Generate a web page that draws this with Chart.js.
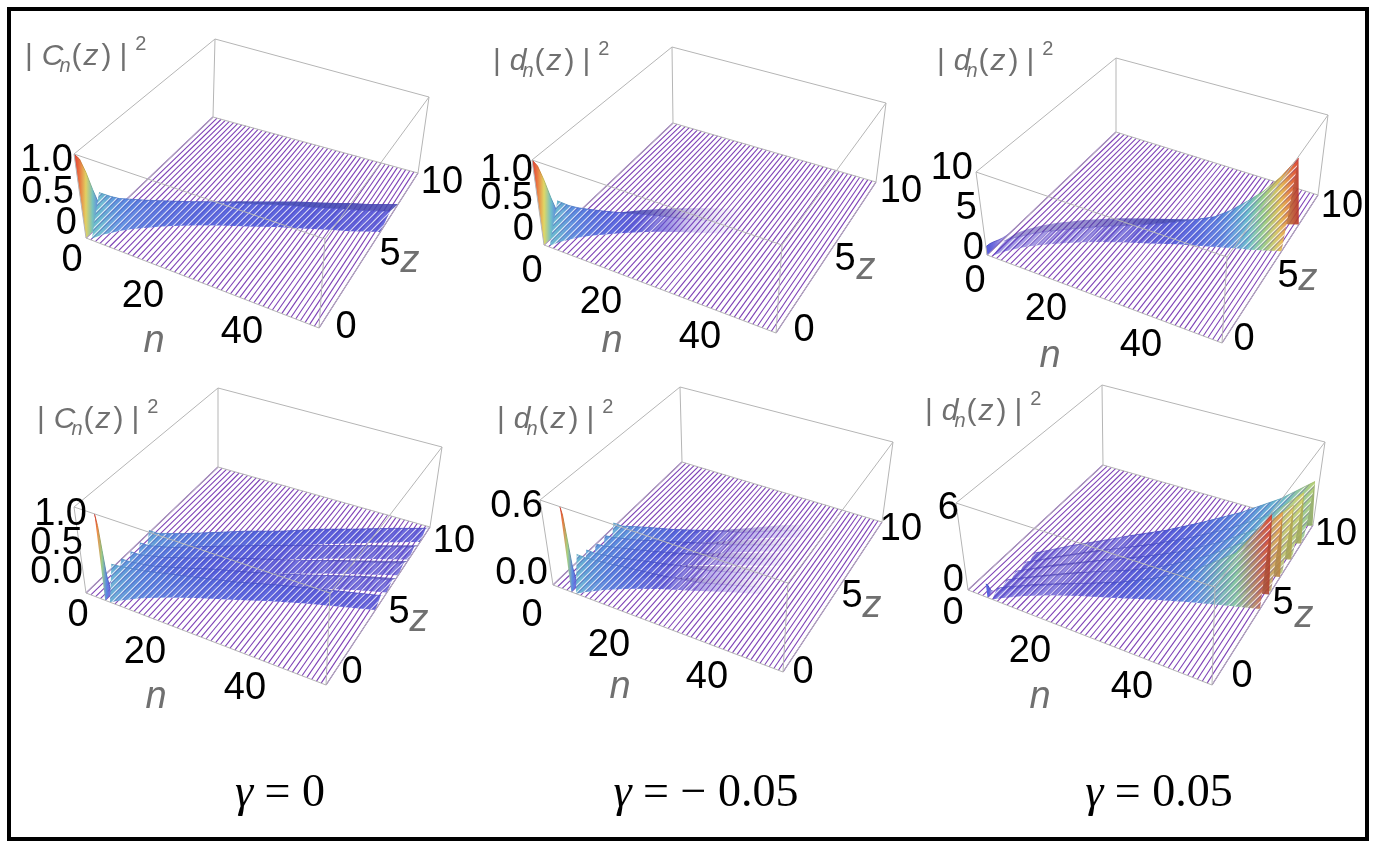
<!DOCTYPE html>
<html>
<head>
<meta charset="utf-8">
<title>|C_n(z)|^2 and |d_n(z)|^2</title>
<script src="https://cdn.jsdelivr.net/npm/chart.js@4.4.1/dist/chart.umd.min.js"></script>
<style>
  html, body { margin: 0; padding: 0; background: #fff; }
  #wrap { position: relative; width: 1376px; height: 848px; overflow: hidden; }
  #plot { position: absolute; left: 0; top: 0; }
  #frame { position: absolute; left: 7px; top: 7px; width: 1362px; height: 834px;
           border: 4px solid #000; box-sizing: border-box; pointer-events: none; }
</style>
</head>
<body>
<div id="wrap">
  <canvas id="plot" width="1376" height="848"></canvas>
  <div id="frame"></div>
</div>
<script>
const W = 1376, H = 848;
const N_MAX = 50, Z_MAX = 10;

// ---- values ----
const nIndex = Array.from({length: 51}, (_, i) => i);   // one mesh line per guide n
const nTicks = ['0', '20', '40'];
const zTicks = ['0', '5', '10'];
const gammaValues = ['0', '\u2212 0.05', '0.05'];
const titleLetter = ['C', 'd', 'd', 'C', 'd', 'd'];
const vTickLabels = [['1.0', '0.5', '0'], ['1.0', '0.5', '0'], ['10', '5', '0'],
                     ['1.0', '0.5', '0.0'], ['0.6', '0.0'], ['6', '0']];
const vMax = [1, 1, 10, 1, 0.62, 6.5];

// top row: intensity in guide n = 0 along z
const wallZ  = [0, 0.3, 0.6, 0.9, 1.2, 1.5, 1.8, 2.2];
const wallG0 = [1.0, 0.9, 0.7, 0.45, 0.24, 0.11, 0.04, 0.01];
const wallGm = [1.0, 0.89, 0.68, 0.43, 0.22, 0.1, 0.035, 0.01];
const wallGp = [1.0, 0.92, 0.72, 0.47, 0.26, 0.12, 0.05, 0.015];

// top row: main crest (guide, position in z, height)
const crestN  = [1, 2, 3, 4, 6, 8, 10, 13, 16, 20, 25, 30, 35, 38, 41, 44, 47, 50];
const crestZ  = [1.0, 1.45, 1.75, 2.05, 2.5, 2.85, 3.2, 3.65, 4.05, 4.5, 5.0, 5.5, 5.9, 6.15, 6.4, 6.6, 6.85, 7.1];
const crestG0 = [0.42, 0.33, 0.28, 0.25, 0.21, 0.19, 0.17, 0.15, 0.14, 0.13, 0.12, 0.11, 0.1, 0.097, 0.094, 0.09, 0.088, 0.085];
const crestGm = [0.4, 0.3, 0.25, 0.21, 0.16, 0.13, 0.1, 0.07, 0.04, 0.008, 0.001, 0, 0, 0, 0, 0, 0, 0];
const crestGp = [0.4, 0.35, 0.33, 0.32, 0.32, 0.33, 0.36, 0.42, 0.5, 0.65, 0.95, 1.4, 2.1, 3.0, 4.2, 5.6, 7.4, 9.8];

// bottom row: input guide n = 4 along z
const spikeZ  = [0, 0.1, 0.2, 0.3, 0.45, 0.6];
const spikeG0 = [1.0, 0.85, 0.55, 0.25, 0.07, 0.02];
const spikeGm = [0.62, 0.55, 0.36, 0.16, 0.045, 0.01];
const spikeGp = [1.0, 0.85, 0.55, 0.25, 0.07, 0.02];

// bottom row: five crests fanning out (front to back)
const fanN  = [5, 6, 9, 13, 18, 24, 30, 37, 44, 50];
const fanZ1 = [0.4, 0.7, 1.3, 1.9, 2.5, 3.1, 3.7, 4.3, 4.8, 5.2];
const fanZ2 = [1.1, 1.4, 2.0, 2.7, 3.4, 4.0, 4.6, 5.3, 5.9, 6.3];
const fanZ3 = [1.8, 2.1, 2.8, 3.5, 4.3, 5.0, 5.6, 6.3, 6.9, 7.4];
const fanZ4 = [2.5, 2.8, 3.5, 4.3, 5.1, 5.9, 6.6, 7.3, 7.9, 8.4];
const fanZ5 = [3.2, 3.5, 4.3, 5.1, 6.0, 6.8, 7.6, 8.3, 9.0, 9.5];

const fanG0_1 = [0.38, 0.33, 0.25, 0.2, 0.16, 0.13, 0.115, 0.1, 0.09, 0.085];
const fanG0_2 = [0.34, 0.28, 0.2, 0.15, 0.12, 0.1, 0.085, 0.075, 0.07, 0.065];
const fanG0_3 = [0.32, 0.26, 0.18, 0.14, 0.11, 0.09, 0.08, 0.07, 0.065, 0.06];
const fanG0_4 = [0.32, 0.26, 0.19, 0.15, 0.12, 0.1, 0.085, 0.075, 0.07, 0.065];
const fanG0_5 = [0.36, 0.3, 0.23, 0.19, 0.15, 0.12, 0.105, 0.095, 0.085, 0.08];

const fanGm_1 = [0.25, 0.21, 0.15, 0.1, 0.05, 0.015, 0.004, 0, 0, 0];
const fanGm_2 = [0.22, 0.18, 0.13, 0.085, 0.045, 0.013, 0.003, 0, 0, 0];
const fanGm_3 = [0.2, 0.17, 0.12, 0.08, 0.042, 0.012, 0.003, 0, 0, 0];
const fanGm_4 = [0.2, 0.17, 0.12, 0.08, 0.044, 0.013, 0.003, 0, 0, 0];
const fanGm_5 = [0.23, 0.19, 0.14, 0.09, 0.048, 0.014, 0.004, 0, 0, 0];

const fanGp_1 = [0.45, 0.4, 0.35, 0.36, 0.48, 0.7, 1.1, 1.9, 3.3, 6.3];
const fanGp_2 = [0.4, 0.35, 0.3, 0.32, 0.44, 0.66, 1.05, 1.8, 3.0, 5.3];
const fanGp_3 = [0.38, 0.33, 0.28, 0.3, 0.42, 0.62, 1.0, 1.7, 2.8, 4.6];
const fanGp_4 = [0.38, 0.33, 0.28, 0.3, 0.42, 0.62, 1.0, 1.65, 2.7, 4.4];
const fanGp_5 = [0.4, 0.36, 0.31, 0.33, 0.45, 0.68, 1.05, 1.75, 2.7, 4.0];

// ---- layout: box corners (A: n0 z0, B: n50 z0, C: n50 z10, D: n0 z10, *2 = top) and label spots ----
const LAYOUT = [
  { A:[86,238], B:[319,328], C:[418,173], D:[213,117], A2:[74,154], B2:[325,239], C2:[429,97], D2:[215,39],
    title:[25,65], vTick:[[72,161],[73,193],[76,224]], nTick:[[72,261],[143,297],[242,333]], nLab:[154,342],
    zTick:[[346,328],[390,255],[442,183]], zLab:[410,262] },
  { A:[544,245], B:[776,333], C:[876,182], D:[673,123], A2:[532,160], B2:[782,245], C2:[886,103], D2:[672,47],
    title:[493,70], vTick:[[532,171],[532,199],[533,230]], nTick:[[532,272],[601,303],[700,338]], nLab:[612,342],
    zTick:[[804,331],[845,260],[901,192]], zLab:[866,269] },
  { A:[987,255], B:[1222,343], C:[1318,195], D:[1116,132], A2:[976,172], B2:[1227,257], C2:[1328,115], D2:[1116,58],
    title:[937,70], vTick:[[972,169],[976,209],[983,249]], nTick:[[975,282],[1046,310],[1141,346]], nLab:[1050,357],
    zTick:[[1244,340],[1288,277],[1342,207]], zLab:[1308,280] },
  { A:[86,593], B:[326,685], C:[430,527], D:[218,467], A2:[74,507], B2:[330,593], C2:[442,447], D2:[218,388],
    title:[37,428], vTick:[[86,515],[82,544],[82,573]], nTick:[[78,616],[145,653],[245,689]], nLab:[156,698],
    zTick:[[352,673],[399,613],[454,542]], zLab:[419,621] },
  { A:[553,585], B:[783,672], C:[882,522], D:[682,462], A2:[540,500], B2:[788,583], C2:[893,442], D2:[680,387],
    title:[497,428], vTick:[[542,507],[547,574]], nTick:[[532,616],[609,646],[707,678]], nLab:[620,688],
    zTick:[[803,673],[852,597],[901,530]], zLab:[872,607] },
  { A:[968,590], B:[1212,685], C:[1313,525], D:[1103,465], A2:[956,503], B2:[1215,587], C2:[1325,442], D2:[1102,385],
    title:[925,420], vTick:[[958,509],[963,581]], nTick:[[953,614],[1030,652],[1132,688]], nLab:[1040,698],
    zTick:[[1242,677],[1283,604],[1336,535]], zLab:[1304,617] }
];
const GAMMA_POS = [[280, 806], [706, 806], [1159, 806]];
const BACK_EDGES = [['D','D2'], ['C','C2'], ['D2','C2'], ['A2','D2'], ['A','D'], ['D','C']];
const FRONT_EDGES = [['A','B'], ['B','C'], ['A','A2'], ['B','B2'], ['A2','B2'], ['B2','C2']];
const FOOT_TOP = 0.9, FOOT_BOT = 0.45;
const HATCH = 'rgb(126, 66, 182)';
const EDGE = '#b5b5b5';
const GRAY = '#707070';
const SANS = '"Liberation Sans", Arial, Helvetica, sans-serif';
const SERIF = '"Liberation Serif", "Times New Roman", serif';

const fanZ = [fanZ1, fanZ2, fanZ3, fanZ4, fanZ5];
const fanG0 = [fanG0_1, fanG0_2, fanG0_3, fanG0_4, fanG0_5];
const fanGm = [fanGm_1, fanGm_2, fanGm_3, fanGm_4, fanGm_5];
const fanGp = [fanGp_1, fanGp_2, fanGp_3, fanGp_4, fanGp_5];
const fan = g => fanZ.map((zs, k) => [fanN, zs, g[k], FOOT_BOT]);

const surfaces = [
  { profile: [0, wallZ, wallG0], ridges: [[crestN, crestZ, crestG0, FOOT_TOP]] },
  { profile: [0, wallZ, wallGm], ridges: [[crestN, crestZ, crestGm, FOOT_TOP]] },
  { profile: [0, wallZ, wallGp], ridges: [[crestN, crestZ, crestGp, FOOT_TOP]] },
  { profile: [4, spikeZ, spikeG0], ridges: fan(fanG0) },
  { profile: [4, spikeZ, spikeGm], ridges: fan(fanGm) },
  { profile: [4, spikeZ, spikeGp], ridges: fan(fanGp) }
];

// rainbow-like colour ramp for the surface height
const RAMP = [
  [0.00, [88, 60, 200]],
  [0.12, [76, 88, 220]],
  [0.28, [86, 140, 224]],
  [0.42, [100, 186, 204]],
  [0.56, [150, 206, 130]],
  [0.68, [222, 214, 92]],
  [0.82, [240, 156, 66]],
  [1.00, [222, 48, 40]]
];
function rampRGB(t) {
  t = Math.max(0, Math.min(1, t));
  for (let i = 1; i < RAMP.length; i++) {
    if (t <= RAMP[i][0]) {
      const [t0, c0] = RAMP[i - 1], [t1, c1] = RAMP[i];
      const f = (t - t0) / (t1 - t0);
      return c0.map((c, k) => c + (c1[k] - c) * f);
    }
  }
  return RAMP[RAMP.length - 1][1];
}
function shade(rgb, mix) {
  return rgb.map(c => mix >= 0 ? c + (255 - c) * mix : c * (1 + mix));
}
function rgba(rgb, a) {
  return 'rgba(' + rgb.map(Math.round).join(',') + ',' + a.toFixed(3) + ')';
}
function alphaFor(t) { return Math.min(1, Math.sqrt(Math.max(t, 0)) * 3.2); }

// colour follows the crest value from left to right
function rampFill(pts, vals, vmax, mix, aScale) {
  return (ctx) => {
    const chart = ctx.chart;
    if (!chart.chartArea) return 'rgba(0,0,0,0)';
    const sx = chart.scales.x;
    const px = pts.map(p => sx.getPixelForValue(p.x));
    const x0 = Math.min(...px);
    const x1 = Math.max(Math.max(...px), x0 + 2);
    const g = chart.ctx.createLinearGradient(x0, 0, x1, 0);
    px.forEach((x, i) => {
      const t = vals[i] / vmax;
      const off = Math.min(1, Math.max(0, (x - x0) / (x1 - x0)));
      g.addColorStop(off, rgba(shade(rampRGB(t), mix), alphaFor(t) * aScale));
    });
    return g;
  };
}

function makeStripes() {
  const c = document.createElement('canvas');
  c.width = 7; c.height = 7;
  const g = c.getContext('2d');
  const diag = (off, color, w) => {
    g.strokeStyle = color;
    g.lineWidth = w;
    for (const k of [-7, 0, 7]) {
      g.beginPath(); g.moveTo(k + off - 1, 8); g.lineTo(k + off + 8, -1); g.stroke();
    }
  };
  diag(0, 'rgba(255,255,255,0.75)', 1.2);
  diag(1.6, 'rgba(70,40,160,0.45)', 1.0);
  return g.createPattern(c, 'repeat');
}
const STRIPES = makeStripes();

function lerp(a, b, f) { return [a[0] + (b[0] - a[0]) * f, a[1] + (b[1] - a[1]) * f]; }
function proj(L, vmax, n, z, v) {
  const u = n / N_MAX;
  const t = Math.min(Math.max(z, 0), Z_MAX) / Z_MAX;
  const s = Math.min(v / vmax, 1);
  const f = lerp(lerp(L.A, L.B, u), lerp(L.D, L.C, u), t);
  const g = lerp(lerp(L.A2, L.B2, u), lerp(L.D2, L.C2, u), t);
  const p = lerp(f, g, s);
  return { x: p[0], y: p[1] };
}

const datasets = [];
function addLine(points, color, width) {
  datasets.push({ data: points, showLine: true, fill: false, borderColor: color,
                  borderWidth: width, pointRadius: 0, pointHoverRadius: 0 });
}
function addShape(points, bg) {
  datasets.push({ data: points, showLine: true, fill: 'shape', backgroundColor: bg,
                  borderColor: 'rgba(0,0,0,0)', borderWidth: 0, pointRadius: 0, pointHoverRadius: 0 });
}

LAYOUT.forEach((L, p) => {
  const vmax = vMax[p];
  const P = (n, z, v) => proj(L, vmax, n, z, v);
  const corner = k => ({ x: L[k][0], y: L[k][1] });

  nIndex.forEach(n => addLine([P(n, 0, 0), P(n, Z_MAX, 0)], HATCH, 1.1));
  BACK_EDGES.forEach(([a, b]) => addLine([corner(a), corner(b)], EDGE, 1));

  const S = surfaces[p];
  const [pn, pz, pv] = S.profile;
  const top = pz.map((z, i) => P(pn, z, pv[i]));
  const base = pz.map(z => P(pn, z, 0));
  addShape(top.concat(base.slice().reverse()), rampFill(top, pv, vmax, 0.05, 1));
  addLine(top, rampFill(top, pv, vmax, -0.1, 1), 1);

  S.ridges.slice().reverse().forEach(([ns, zs, vs, foot]) => {
    const crest = vs.map((v, i) => P(ns[i], zs[i], v));
    const front = vs.map((v, i) => P(ns[i], zs[i] - foot, 0));
    const back = vs.map((v, i) => P(ns[i], zs[i] + foot, 0));
    addShape(crest.concat(back.slice().reverse()), rampFill(crest, vs, vmax, -0.18, 0.9));
    addShape(front.concat(crest.slice().reverse()), rampFill(crest, vs, vmax, 0.04, 0.95));
    let last = 0;
    vs.forEach((v, i) => { if (v / vmax > 0.015) last = i; });
    const k = last + 1;
    addShape(front.slice(0, k).concat(crest.slice(0, k).reverse()), STRIPES);
    addLine(crest, rampFill(crest, vs, vmax, -0.1, 0.9), 0.8);
  });

  FRONT_EDGES.forEach(([a, b]) => addLine([corner(a), corner(b)], EDGE, 1));
});
datasets.forEach((d, i) => { d.order = datasets.length - i; });

function drawTitle(ctx, x, y, letter) {
  const big = '30px ' + SANS, bigI = 'italic 30px ' + SANS;
  const sub = 'italic 20px ' + SANS, sup = '20px ' + SANS;
  const parts = [[big, '|', 0, 9], [bigI, letter, 0, -4], [sub, 'n', 7, 1], [big, '(', 0, 2],
                 [bigI, 'z', 0, 3], [big, ')', 0, 8], [big, '|', 0, 8], [sup, '2', -15, 0]];
  ctx.fillStyle = GRAY;
  ctx.textAlign = 'left';
  ctx.textBaseline = 'alphabetic';
  let cx = x;
  for (const [f, s, dy, gap] of parts) {
    ctx.font = f;
    ctx.fillText(s, cx, y + dy);
    cx += ctx.measureText(s).width + gap;
  }
}

const panelText = {
  id: 'panelText',
  afterDraw(chart) {
    const ctx = chart.ctx;
    const X = v => chart.scales.x.getPixelForValue(v);
    const Y = v => chart.scales.y.getPixelForValue(v);
    ctx.save();
    LAYOUT.forEach((L, p) => {
      drawTitle(ctx, X(L.title[0]), Y(L.title[1]), titleLetter[p]);
      ctx.fillStyle = '#000';
      ctx.font = '38px ' + SANS;
      ctx.textBaseline = 'middle';
      ctx.textAlign = 'right';
      vTickLabels[p].forEach((s, i) => ctx.fillText(s, X(L.vTick[i][0]) + 1, Y(L.vTick[i][1])));
      ctx.textAlign = 'center';
      nTicks.forEach((s, i) => ctx.fillText(s, X(L.nTick[i][0]), Y(L.nTick[i][1])));
      zTicks.forEach((s, i) => ctx.fillText(s, X(L.zTick[i][0]), Y(L.zTick[i][1])));
      ctx.fillStyle = GRAY;
      ctx.font = 'italic 38px ' + SANS;
      ctx.textBaseline = 'alphabetic';
      ctx.fillText('n', X(L.nLab[0]), Y(L.nLab[1]) + 10);
      ctx.fillText('z', X(L.zLab[0]), Y(L.zLab[1]) + 10);
    });
    ctx.fillStyle = '#000';
    ctx.textAlign = 'left';
    ctx.textBaseline = 'alphabetic';
    gammaValues.forEach((v, i) => {
      const [cx, by] = GAMMA_POS[i];
      const rest = ' = ' + v;
      ctx.font = 'italic 46px ' + SERIF;
      const wg = ctx.measureText('\u03b3').width;
      ctx.font = '46px ' + SERIF;
      const wr = ctx.measureText(rest).width;
      const x0 = X(cx) - (wg + wr) / 2;
      ctx.font = 'italic 46px ' + SERIF;
      ctx.fillText('\u03b3', x0, Y(by));
      ctx.font = '46px ' + SERIF;
      ctx.fillText(rest, x0 + wg, Y(by));
    });
    ctx.restore();
  }
};

new Chart(document.getElementById('plot'), {
  type: 'scatter',
  data: { datasets: datasets },
  options: {
    responsive: false,
    animation: false,
    events: [],
    layout: { padding: 0 },
    plugins: { legend: { display: false }, tooltip: { enabled: false } },
    scales: {
      x: { type: 'linear', min: 0, max: W, display: false },
      y: { type: 'linear', min: 0, max: H, reverse: true, display: false }
    }
  },
  plugins: [panelText]
});
</script>
</body>
</html>
